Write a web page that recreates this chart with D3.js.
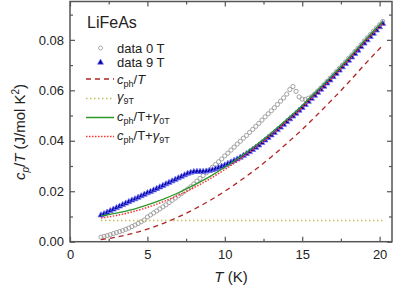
<!DOCTYPE html>
<meta charset="utf-8">
<style>
body { margin: 0; background: #fff; }
svg { font-family: "Liberation Sans", Arial, sans-serif; }
.axis path { display: none; }
.axis line { stroke: #555; stroke-width: 1.2; }
.axis text { font-size: 13px; fill: #222; }
</style>
<svg width="395" height="287"></svg>
<script src="https://d3js.org/d3.v7.min.js"></script>
<script>

// temperature grid of the measured points (K)
var tData = [2.0,2.2,2.4,2.6,2.8,3.0,3.2,3.4,3.6,3.8,4.0,4.2,4.4,4.6,4.8,5.0,5.2,5.4,5.6,5.8,
  6.0,6.2,6.4,6.6,6.8,7.0,7.2,7.4,7.6,7.8,8.0,8.2,8.4,8.6,8.8,9.0,9.2,9.4,9.6,9.8,
  10.0,10.2,10.4,10.6,10.8,11.0,11.2,11.4,11.6,11.8,12.0,12.2,12.4,12.6,12.8,13.0,13.2,13.4,13.6,13.8,
  14.0,14.2,14.4,14.6,14.8,15.0,15.2,15.4,15.6,15.8,16.0,16.2,16.4,16.6,16.8,17.0,17.2,17.4,17.6,17.8,
  18.0,18.2,18.4,18.6,18.8,19.0,19.2,19.4,19.6,19.8,20.0,20.2];

// cp/T at 0 T
var data0T = [0.0018,0.0021,0.0024,0.0028,0.0032,0.0036,0.0040,0.0044,0.0049,0.0054,
  0.0060,0.0066,0.0072,0.0079,0.0086,0.0098,0.0106,0.0114,0.0122,0.0130,
  0.0138,0.0146,0.0155,0.0164,0.0173,0.0182,0.0191,0.0200,0.0209,0.0218,
  0.0229,0.0240,0.0251,0.0262,0.0273,0.0284,0.0295,0.0306,0.0317,0.0328,
  0.0340,0.0351,0.0363,0.0375,0.0387,0.0398,0.0410,0.0421,0.0433,0.0445,
  0.0457,0.0469,0.0482,0.0495,0.0507,0.0519,0.0531,0.0544,0.0557,0.0570,
  0.0585,0.0603,0.0615,0.0596,0.0574,0.0565,0.0564,0.0568,0.0575,0.0585,
  0.0597,0.0609,0.0622,0.0635,0.0648,0.0661,0.0674,0.0687,0.0700,0.0713,
  0.0727,0.0740,0.0754,0.0767,0.0781,0.0795,0.0808,0.0821,0.0834,0.0847,0.0860,0.0873];

// cp/T at 9 T
var data9T = [0.0105,0.0110,0.0116,0.0122,0.0128,0.0134,0.0140,0.0146,0.0152,0.0158,
  0.0164,0.0169,0.0175,0.0181,0.0187,0.0193,0.0198,0.0204,0.0210,0.0216,
  0.0222,0.0228,0.0234,0.0240,0.0246,0.0252,0.0258,0.0264,0.0270,0.0274,
  0.0277,0.0278,0.0278,0.0278,0.0279,0.0281,0.0284,0.0288,0.0293,0.0298,
  0.0303,0.0309,0.0315,0.0321,0.0327,0.0334,0.0341,0.0348,0.0356,0.0364,
  0.0373,0.0382,0.0392,0.0402,0.0412,0.0422,0.0432,0.0443,0.0453,0.0464,
  0.0475,0.0486,0.0497,0.0508,0.0520,0.0531,0.0543,0.0555,0.0567,0.0579,
  0.0591,0.0603,0.0615,0.0628,0.0640,0.0653,0.0666,0.0679,0.0692,0.0705,
  0.0718,0.0731,0.0745,0.0758,0.0772,0.0786,0.0799,0.0812,0.0825,0.0838,0.0851,0.0864];

// fitted curves
var tFit    = [2, 3, 4, 5, 6, 7, 8, 9, 10, 11, 12, 13, 14, 15, 16, 17, 18, 19, 20.2];
var cph     = [0.0008,0.0018,0.0032,0.0050,0.0072,0.0098,0.0128,0.0162,0.0200,0.0242,0.0287,0.0336,0.0389,0.0445,0.0505,0.0567,0.0632,0.0700,0.0778];
var cphG0   = [0.0102,0.0113,0.0127,0.0146,0.0168,0.0194,0.0224,0.0257,0.0295,0.0337,0.0382,0.0431,0.0484,0.0540,0.0600,0.0662,0.0727,0.0795,0.0873];
var cphG9   = [0.0094,0.0104,0.0118,0.0136,0.0158,0.0184,0.0214,0.0248,0.0286,0.0328,0.0373,0.0422,0.0475,0.0531,0.0591,0.0653,0.0718,0.0786,0.0864];
var gamma9T = 0.0084;

var xTicks = [0, 5, 10, 15, 20],
    xMinor = [2.5, 7.5, 12.5, 17.5],
    yTicks = [0, 0.02, 0.04, 0.06, 0.08],
    yMinor = [0.01, 0.03, 0.05, 0.07, 0.09];

var svg = d3.select("svg");

var pLeft = 70, pRight = 392, pTop = 1.5, pBottom = 241.7;

var x = d3.scaleLinear().domain([0, 20.8]).range([pLeft, pRight]);
var y = d3.scaleLinear().domain([0, 0.095]).range([pBottom, pTop + 0.5]);

// axes, ticks pointing inward
svg.append("g").attr("class", "axis").attr("transform", "translate(0," + pBottom + ")")
    .call(d3.axisBottom(x).tickValues(xTicks).tickSize(-5).tickPadding(8).tickFormat(d3.format("d")));
svg.append("g").attr("class", "axis").attr("transform", "translate(0," + pBottom + ")")
    .call(d3.axisBottom(x).tickValues(xMinor).tickSize(-3).tickFormat(""));
svg.append("g").attr("class", "axis").attr("transform", "translate(0," + pTop + ")")
    .call(d3.axisTop(x).tickValues(xTicks).tickSize(-5).tickFormat(""));
svg.append("g").attr("class", "axis").attr("transform", "translate(0," + pTop + ")")
    .call(d3.axisTop(x).tickValues(xMinor).tickSize(-3).tickFormat(""));

svg.append("g").attr("class", "axis").attr("transform", "translate(" + pLeft + ",0)")
    .call(d3.axisLeft(y).tickValues(yTicks).tickSize(-5).tickPadding(6).tickFormat(d3.format(".2f")));
svg.append("g").attr("class", "axis").attr("transform", "translate(" + pLeft + ",0)")
    .call(d3.axisLeft(y).tickValues(yMinor).tickSize(-3).tickFormat(""));
svg.append("g").attr("class", "axis").attr("transform", "translate(" + pRight + ",0)")
    .call(d3.axisRight(y).tickValues(yTicks).tickSize(-5).tickFormat(""));
svg.append("g").attr("class", "axis").attr("transform", "translate(" + pRight + ",0)")
    .call(d3.axisRight(y).tickValues(yMinor).tickSize(-3).tickFormat(""));

svg.append("rect")
    .attr("x", pLeft).attr("y", pTop)
    .attr("width", pRight - pLeft).attr("height", pBottom - pTop)
    .attr("fill", "none").attr("stroke", "#555").attr("stroke-width", 1.5);

// data
var pts0 = tData.map((t, i) => [t, data0T[i]]);
var pts9 = tData.map((t, i) => [t, data9T[i]]);

svg.append("g").selectAll("circle")
    .data(pts0).enter().append("circle")
    .attr("cx", d => x(d[0])).attr("cy", d => y(d[1])).attr("r", 2.1)
    .attr("fill", "none").attr("stroke", "#999").attr("stroke-width", 0.9);

var tri = d3.symbol().type(d3.symbolTriangle).size(15);
svg.append("g").selectAll("path")
    .data(pts9).enter().append("path")
    .attr("d", tri)
    .attr("transform", d => "translate(" + x(d[0]) + "," + y(d[1]) + ")")
    .attr("fill", "#00009a").attr("stroke", "#7070ff").attr("stroke-width", 0.8);

// fit lines
var line = d3.line().x(d => x(d[0])).y(d => y(d[1])).curve(d3.curveMonotoneX);

function fitPath(vals, color, dash, w) {
  svg.append("path")
      .datum(tFit.map((t, i) => [t, vals[i]]))
      .attr("d", line)
      .attr("fill", "none").attr("stroke", color).attr("stroke-width", w)
      .attr("stroke-dasharray", dash);
}

fitPath(cph, "#b02424", "5,4", 1.3);
svg.append("path")
    .datum([[tFit[0], gamma9T], [tFit[tFit.length - 1], gamma9T]])
    .attr("d", line)
    .attr("fill", "none").attr("stroke", "#c0c060").attr("stroke-width", 1.5)
    .attr("stroke-dasharray", "1.5,2.5");
fitPath(cphG0, "#2a9a2a", null, 1.3);
fitPath(cphG9, "#ff3030", "1.5,1.5", 1.5);

// legend
svg.append("text").attr("x", 87).attr("y", 28).attr("font-size", 16).attr("fill", "#222").text("LiFeAs");

var lx0 = 86, lx1 = 114, tx = 117;

svg.append("circle").attr("cx", 100.5).attr("cy", 48).attr("r", 2)
    .attr("fill", "none").attr("stroke", "#999").attr("stroke-width", 0.8);
svg.append("text").attr("x", tx).attr("y", 52.5).attr("font-size", 13).attr("fill", "#222").text("data 0 T");

svg.append("path").attr("d", tri).attr("transform", "translate(100.5,62.5)")
    .attr("fill", "#00009a").attr("stroke", "#7070ff").attr("stroke-width", 0.7);
svg.append("text").attr("x", tx).attr("y", 67).attr("font-size", 13).attr("fill", "#222").text("data 9 T");

function legLine(yy, color, dash, w) {
  svg.append("line").attr("x1", lx0).attr("x2", lx1).attr("y1", yy).attr("y2", yy)
      .attr("stroke", color).attr("stroke-width", w).attr("stroke-dasharray", dash);
}

function legText(yy, parts) {
  var t = svg.append("text").attr("x", tx).attr("y", yy).attr("font-size", 13).attr("fill", "#222");
  parts.forEach(p => {
    var s = t.append("tspan").text(p.s);
    if (p.it) s.attr("font-style", "italic");
    if (p.sub) s.attr("font-size", 9).attr("dy", 3);
    if (p.up) s.attr("dy", -3);
  });
}

legLine(79, "#b02424", "5,4", 1.3);
legText(83.5, [{s: "c", it: 1}, {s: "ph", sub: 1}, {s: "/", up: 1}, {s: "T", it: 1}]);

legLine(98.5, "#c0c060", "1.5,2.5", 1.5);
legText(101, [{s: "γ", it: 1}, {s: "9T", sub: 1}]);

legLine(117.5, "#2a9a2a", null, 1.5);
legText(121, [{s: "c", it: 1}, {s: "ph", sub: 1}, {s: "/T+", up: 1}, {s: "γ", it: 1}, {s: "0T", sub: 1}]);

legLine(136.5, "#ff3030", "1.5,1.5", 1.5);
legText(140, [{s: "c", it: 1}, {s: "ph", sub: 1}, {s: "/T+", up: 1}, {s: "γ", it: 1}, {s: "9T", sub: 1}]);

// axis titles
var xt = svg.append("text").attr("x", (pLeft + pRight) / 2).attr("y", 282)
    .attr("text-anchor", "middle").attr("font-size", 15).attr("fill", "#222");
xt.append("tspan").attr("font-style", "italic").text("T");
xt.append("tspan").text(" (K)");

var yt = svg.append("text").attr("transform", "translate(25,132) rotate(-90)")
    .attr("text-anchor", "middle").attr("font-size", 15).attr("fill", "#222");
yt.append("tspan").attr("font-style", "italic").text("c");
yt.append("tspan").attr("font-style", "italic").attr("font-size", 10).attr("dy", 4).text("p");
yt.append("tspan").attr("dy", -4).text("/");
yt.append("tspan").attr("font-style", "italic").text("T");
yt.append("tspan").text(" (J/mol K");
yt.append("tspan").attr("font-size", 10).attr("dy", -6).text("2");
yt.append("tspan").attr("dy", 6).text(")");

</script>
